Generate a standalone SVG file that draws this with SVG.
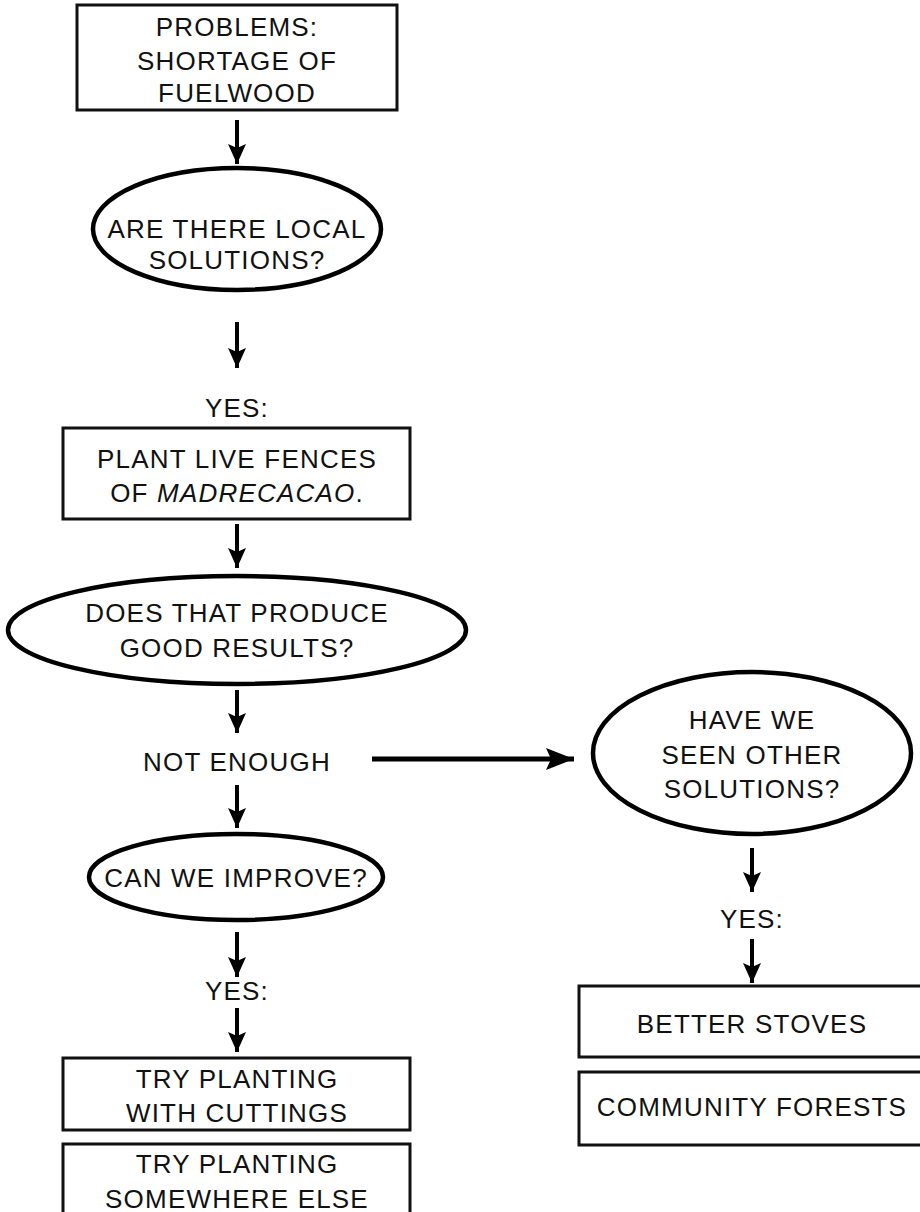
<svg xmlns="http://www.w3.org/2000/svg" width="920" height="1212" viewBox="0 0 920 1212">
<defs>
<style>
text{font-family:"Liberation Sans",Arial,sans-serif;font-size:26px;fill:#111;text-anchor:middle;letter-spacing:1.2px}
.box{fill:#fff;stroke:#111;stroke-width:3}
.ell{fill:#fff;stroke:#000;stroke-width:4.5}
.arr{stroke:#000;stroke-width:4;fill:none;marker-end:url(#ah)}
.harr{stroke:#000;stroke-width:5;fill:none;marker-end:url(#hh)}
</style>
<marker id="ah" markerUnits="userSpaceOnUse" markerWidth="20" markerHeight="18" refX="20" refY="9" orient="auto" viewBox="0 0 20 18">
<path d="M0,0 L20,9 L0,18 L4,9 z" fill="#000"/>
</marker>
<marker id="hh" markerUnits="userSpaceOnUse" markerWidth="28" markerHeight="22" refX="28" refY="11" orient="auto" viewBox="0 0 28 22">
<path d="M0,0 L28,11 L0,22 L5,11 z" fill="#000"/>
</marker>
</defs>
<rect width="920" height="1212" fill="#fff"/>
<g id="connectors">
<line class="arr" x1="237" y1="120" x2="237" y2="164"/>
<line class="arr" x1="237" y1="322" x2="237" y2="368"/>
<line class="arr" x1="237" y1="524" x2="237" y2="568"/>
<line class="arr" x1="237" y1="690" x2="237" y2="733"/>
<line class="harr" x1="372" y1="759" x2="574" y2="759"/>
<line class="arr" x1="237" y1="785" x2="237" y2="828"/>
<line class="arr" x1="237" y1="932" x2="237" y2="977"/>
<line class="arr" x1="237" y1="1008" x2="237" y2="1052"/>
<line class="arr" x1="752" y1="848" x2="752" y2="892"/>
<line class="arr" x1="752" y1="939" x2="752" y2="983"/>
</g>
<g id="n-problems">
<rect class="box" x="77" y="5" width="320" height="105"/>
<text x="237" y="36">PROBLEMS:</text>
<text x="237" y="70">SHORTAGE OF</text>
<text x="237" y="102">FUELWOOD</text>
</g>
<g id="n-local">
<ellipse class="ell" cx="237" cy="229" rx="144" ry="61"/>
<text x="237" y="238">ARE THERE LOCAL</text>
<text x="237" y="269">SOLUTIONS?</text>
</g>
<g id="l-yes1"><text x="237" y="417">YES:</text></g>
<g id="n-plant">
<rect class="box" x="63" y="428" width="347" height="91"/>
<text x="237" y="468">PLANT LIVE FENCES</text>
<text x="237" y="502">OF <tspan font-style="italic">MADRECACAO</tspan>.</text>
</g>
<g id="n-results">
<ellipse class="ell" cx="237" cy="630" rx="229" ry="54"/>
<text x="237" y="622">DOES THAT PRODUCE</text>
<text x="237" y="657">GOOD RESULTS?</text>
</g>
<g id="l-notenough"><text x="237" y="771">NOT ENOUGH</text></g>
<g id="n-other">
<ellipse class="ell" cx="752" cy="753" rx="159" ry="81"/>
<text x="752" y="729">HAVE WE</text>
<text x="752" y="764">SEEN OTHER</text>
<text x="752" y="798">SOLUTIONS?</text>
</g>
<g id="n-improve">
<ellipse class="ell" cx="236" cy="877" rx="147" ry="43"/>
<text x="236" y="887">CAN WE IMPROVE?</text>
</g>
<g id="l-yes2"><text x="237" y="1000">YES:</text></g>
<g id="n-cuttings">
<rect class="box" x="63" y="1058" width="347" height="72"/>
<text x="237" y="1088">TRY PLANTING</text>
<text x="237" y="1122">WITH CUTTINGS</text>
</g>
<g id="n-elsewhere">
<rect class="box" x="63" y="1144" width="347" height="90"/>
<text x="237" y="1173">TRY PLANTING</text>
<text x="237" y="1208">SOMEWHERE ELSE</text>
</g>
<g id="l-yes3"><text x="752" y="928">YES:</text></g>
<g id="n-stoves">
<rect class="box" x="579" y="986" width="360" height="71"/>
<text x="752" y="1033">BETTER STOVES</text>
</g>
<g id="n-forests">
<rect class="box" x="579" y="1072" width="360" height="73"/>
<text x="752" y="1116">COMMUNITY FORESTS</text>
</g>
</svg>
